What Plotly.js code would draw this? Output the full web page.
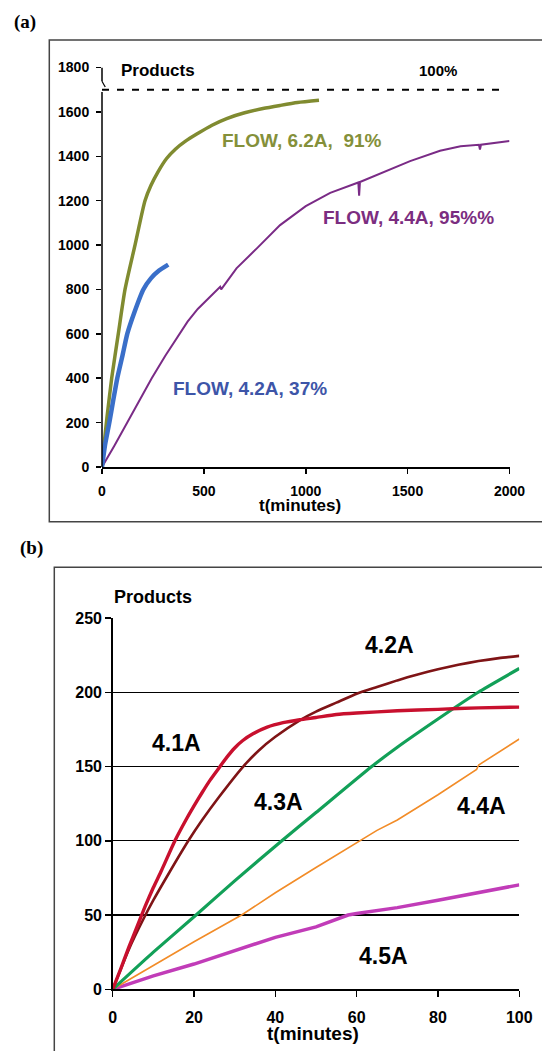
<!DOCTYPE html>
<html>
<head>
<meta charset="utf-8">
<script src="https://cdn.plot.ly/plotly-3.0.1.min.js"></script>
<style>html,body{margin:0;padding:0;background:#fff;}#chart{width:542px;height:1051px;}</style>
</head>
<body>
<div id="chart"></div>
<script>
// ---------- Panel (a): FLOW experiments, t in minutes ----------
const a62_t = [0, 10, 24, 47.5, 80, 113, 162, 211, 240, 275, 317, 360, 410, 465, 540, 612, 700, 790, 874, 960, 1065];
const a62_y = [0, 100, 220, 400, 600, 800, 1000, 1200, 1268, 1330, 1390, 1432, 1468, 1500, 1540, 1570, 1596, 1615, 1629, 1642, 1652];

const a42_t = [0, 15, 36, 55, 75, 100, 124, 160, 203, 240, 280, 325];
const a42_y = [0, 100, 200, 300, 400, 500, 600, 700, 800, 850, 885, 912];

const a44_t = [0, 30, 60, 124, 180, 244, 310, 375, 420, 470, 563, 580, 585, 660, 760, 874, 1000, 1120, 1258, 1262, 1266, 1400, 1512, 1659, 1760, 1850, 1855, 1860, 2000];
const a44_y = [0, 45, 95, 200, 292, 400, 500, 595, 655, 712, 800, 812, 800, 895, 985, 1090, 1175, 1235, 1282, 1222, 1284, 1335, 1378, 1425, 1445, 1452, 1430, 1452, 1469];

const fullYield = 1700;          // 100 % level
const fullYieldX = [0, 1957];

const a_xticks = [0, 500, 1000, 1500, 2000];
const a_yticks = [0, 200, 400, 600, 800, 1000, 1200, 1400, 1600, 1800];

const a_labels = ["FLOW, 6.2A,&nbsp; 91%", "FLOW, 4.4A, 95%%", "FLOW, 4.2A, 37%"];
const a_labelX = [984, 1503, 726];
const a_labelY = [1471, 1126, 355];

// ---------- Panel (b): currents 4.1A - 4.5A, t in minutes ----------
const b41_t = [0, 2, 4, 6.7, 8, 10, 12, 15.3, 18, 20, 22, 24, 26.4, 28, 30, 32, 34.5, 38, 41.9, 46, 50, 55, 60, 70, 80, 90, 100];
const b41_y = [0, 14, 28.5, 47, 56, 68.5, 80, 100, 114, 123.5, 132.5, 141, 150, 156, 162.5, 167.5, 172, 176.5, 179.5, 181.5, 183, 185, 186, 187.5, 188.5, 189.5, 190];

const b42_t = [0, 4, 7.5, 10, 14, 18.6, 22, 26, 32.1, 36, 40, 46.1, 50, 55, 60, 65, 70, 75, 80, 85, 90, 95, 100];
const b42_y = [0, 27, 47, 60, 79, 100, 114, 129, 150, 161, 170, 181.3, 187, 193, 199, 203.5, 208, 212, 215.5, 218.5, 221, 223, 224.5];

const b43_t = [0, 10, 20.5, 30, 41.6, 50, 63.7, 70, 80, 89.9, 100];
const b43_y = [0, 25, 50, 73, 100, 119, 150, 163, 182, 200, 216];

const b44_t = [0, 10, 20, 31.7, 40, 50, 60.8, 65, 70, 80, 89.5, 90, 100];
const b44_y = [0, 16, 32, 50, 65, 82, 100, 107, 114, 131, 148, 151, 168.5];

const b45_t = [0, 10, 20, 30, 40, 50, 57.9, 60, 70, 80, 90, 100];
const b45_y = [0, 9, 17, 26, 35, 42, 50, 51, 55, 60, 65, 70.3];

const b_xticks = [0, 20, 40, 60, 80, 100];
const b_yticks = [0, 50, 100, 150, 200, 250];

const b_labels = ["4.1A", "4.2A", "4.3A", "4.4A", "4.5A"];
const b_labelX = [15.6, 68.0, 40.7, 90.8, 66.6];
const b_labelY = [165.6, 231.8, 126.4, 123.4, 22.4];

// ---------- styling ----------
const SANS = "Liberation Sans, Arial, sans-serif";
const SERIF = "Liberation Serif, Times New Roman, serif";

const OLIVE = "#808b30", OLIVE_T = "#84903a";
const BLUE = "#3a6fc9", BLUE_T = "#3d55a8";
const PURPLE = "#7a2b86", PURPLE_T = "#7b2d80";
const RED = "#c8102e", DRED = "#7f1416", GREEN = "#12a058", ORANGE = "#f28c28", MAGENTA = "#c13cb8";

const W = 542, H = 1051;
const px = v => v / W;
const py = v => 1 - v / H;

const traces = [
  {x: fullYieldX, y: [fullYield, fullYield], xaxis: 'x', yaxis: 'y', mode: 'lines',
   line: {color: '#000', width: 2, dash: '7px,8px'}, hoverinfo: 'skip'},
  {x: a44_t, y: a44_y, xaxis: 'x', yaxis: 'y', mode: 'lines', line: {color: PURPLE, width: 2}, name: 'FLOW 4.4A'},
  {x: a62_t, y: a62_y, xaxis: 'x', yaxis: 'y', mode: 'lines', line: {color: OLIVE, width: 3.5, shape: 'spline', smoothing: 0.6}, name: 'FLOW 6.2A'},
  {x: a42_t, y: a42_y, xaxis: 'x', yaxis: 'y', mode: 'lines', line: {color: BLUE, width: 4.5, shape: 'spline', smoothing: 0.5}, name: 'FLOW 4.2A'},

  {x: b45_t, y: b45_y, xaxis: 'x2', yaxis: 'y2', mode: 'lines', line: {color: MAGENTA, width: 3.5}, name: '4.5A'},
  {x: b44_t, y: b44_y, xaxis: 'x2', yaxis: 'y2', mode: 'lines', line: {color: ORANGE, width: 1.6}, name: '4.4A'},
  {x: b43_t, y: b43_y, xaxis: 'x2', yaxis: 'y2', mode: 'lines', line: {color: GREEN, width: 3.2, shape: 'spline', smoothing: 0.5}, name: '4.3A'},
  {x: b42_t, y: b42_y, xaxis: 'x2', yaxis: 'y2', mode: 'lines', line: {color: DRED, width: 2.6, shape: 'spline', smoothing: 0.5}, name: '4.2A'},
  {x: b41_t, y: b41_y, xaxis: 'x2', yaxis: 'y2', mode: 'lines', line: {color: RED, width: 3.4, shape: 'spline', smoothing: 0.5}, name: '4.1A'}
];

function note(text, xref, yref, x, y, font) {
  return {text: text, xref: xref, yref: yref, x: x, y: y, showarrow: false,
          xanchor: 'center', yanchor: 'middle', font: font};
}
const annotations = [
  note('(a)', 'paper', 'paper', px(24.5), py(21.7), {family: SERIF, size: 19, weight: 'bold', color: '#000'}),
  note('Products', 'paper', 'paper', px(157.5), py(70), {family: SANS, size: 17, weight: 'bold', color: '#000'}),
  note('100%', 'paper', 'paper', px(438.3), py(70.7), {family: SANS, size: 15, weight: 'bold', color: '#000'}),
  note('t(minutes)', 'paper', 'paper', px(299.6), py(505), {family: SANS, size: 17, weight: 'bold', color: '#000'}),
  note('(b)', 'paper', 'paper', px(31), py(548), {family: SERIF, size: 19, weight: 'bold', color: '#000'}),
  note('Products', 'paper', 'paper', px(152.5), py(596.7), {family: SANS, size: 18, weight: 'bold', color: '#000'}),
  note('t(minutes)', 'paper', 'paper', px(313), py(1033), {family: SANS, size: 19, weight: 'bold', color: '#000'})
];
const aColors = [OLIVE_T, PURPLE_T, BLUE_T];
a_labels.forEach((t, i) => annotations.push(
  note(t, 'x', 'y', a_labelX[i], a_labelY[i], {family: SANS, size: 19, weight: 'bold', color: aColors[i]})));
b_labels.forEach((t, i) => annotations.push(
  note(t, 'x2', 'y2', b_labelX[i], b_labelY[i], {family: SANS, size: 23, weight: 'bold', color: '#000'})));

const shapes = [
  // panel frames
  {type: 'rect', xref: 'paper', yref: 'paper', x0: px(49.3), x1: 1.05, y0: py(521.7), y1: py(40),
   line: {color: '#444', width: 1.5}, fillcolor: 'rgba(0,0,0,0)', layer: 'below'},
  {type: 'rect', xref: 'paper', yref: 'paper', x0: px(54.3), x1: 1.05, y0: -0.05, y1: py(567.3),
   line: {color: '#444', width: 1.5}, fillcolor: 'rgba(0,0,0,0)', layer: 'below'},
  // broken y axis of panel (a)
  {type: 'line', xref: 'x domain', yref: 'y', x0: 0, x1: 0, y0: 0, y1: 1690, line: {color: '#000', width: 1.5}},
  {type: 'line', xref: 'x domain', yref: 'y', x0: 0, x1: 0, y0: 1738, y1: 1800, line: {color: '#000', width: 1.5}},
  {type: 'line', xref: 'x domain', yref: 'y', x0: 0, x1: 0.008, y0: 1738, y1: 1712, line: {color: '#000', width: 1.2}}
];

const tickA = {family: SANS, size: 14, weight: 'bold', color: '#000'};
const tickB = {family: SANS, size: 16, weight: 'bold', color: '#000'};

const layout = {
  width: W, height: H,
  margin: {l: 0, r: 0, t: 0, b: 0},
  paper_bgcolor: '#fff', plot_bgcolor: 'rgba(0,0,0,0)',
  showlegend: false,
  xaxis: {domain: [px(102), px(509.5)], range: [0, 2000], anchor: 'y', tickvals: a_xticks,
    ticks: 'outside', ticklen: 5, tickwidth: 1.5, tickcolor: '#000',
    showline: true, linecolor: '#000', linewidth: 1.5, showgrid: false, zeroline: false,
    tickfont: tickA, ticklabelstandoff: 6, fixedrange: true},
  yaxis: {domain: [py(467), py(67.5)], range: [0, 1800], anchor: 'x', tickvals: a_yticks,
    ticks: 'outside', ticklen: 5, tickwidth: 1.5, tickcolor: '#000',
    showline: false, showgrid: false, zeroline: false,
    tickfont: tickA, ticklabelstandoff: 4, fixedrange: true},
  xaxis2: {domain: [px(112.7), px(519.3)], range: [0, 100], anchor: 'y2', tickvals: b_xticks,
    ticks: 'outside', ticklen: 6, tickwidth: 1.5, tickcolor: '#000',
    showline: true, linecolor: '#000', linewidth: 1.5, showgrid: false, zeroline: false,
    tickfont: tickB, ticklabelstandoff: 7, fixedrange: true},
  yaxis2: {domain: [py(989.3), py(618)], range: [0, 250], anchor: 'x2', tickvals: b_yticks,
    ticks: 'outside', ticklen: 6, tickwidth: 1.5, tickcolor: '#000',
    showline: true, linecolor: '#000', linewidth: 1.5,
    showgrid: true, gridcolor: '#000', gridwidth: 1.2, zeroline: false,
    tickfont: tickB, ticklabelstandoff: 0, fixedrange: true},
  annotations: annotations,
  shapes: shapes
};

Plotly.newPlot('chart', traces, layout, {displayModeBar: false, staticPlot: true});
</script>
</body>
</html>
